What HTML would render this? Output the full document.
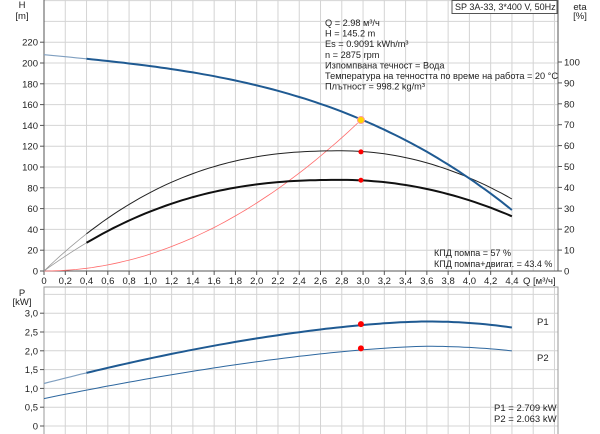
<!DOCTYPE html>
<html><head><meta charset="utf-8"><style>
body{margin:0;background:#fff}
svg{display:block;font-family:"Liberation Sans","DejaVu Sans",sans-serif;font-size:9.5px;fill:#222}
</style></head><body>
<svg id="s" width="600" height="434" viewBox="0 0 600 434" xmlns="http://www.w3.org/2000/svg">
<g id="grid" stroke="#d4d4d4" stroke-width="1"></g>
<g id="axes"></g>
<g id="curves" fill="none"></g>
<g id="txt"></g>
</svg>
<script>
const NS="http://www.w3.org/2000/svg";
function el(p,t,a,tx){const e=document.createElementNS(NS,t);for(const k in a)e.setAttribute(k,a[k]);if(tx!==undefined)e.textContent=tx;document.getElementById(p).appendChild(e);return e;}
const X=q=>44+q*106.35;
const YH=h=>271-h*1.04;
const YE=e=>271-e*2.09;
const YP=p=>426-p*37.6;
for(let i=0;i<=24;i++){const x=44+i*21.27;if(x>558)break;el("grid","line",{x1:x,y1:0,x2:x,y2:271});el("grid","line",{x1:x,y1:287,x2:x,y2:434});}
for(let h=0;h<=260;h+=20){el("grid","line",{x1:44,y1:YH(h),x2:558,y2:YH(h)});}
for(let p=0;p<=3.5;p+=0.5){el("grid","line",{x1:44,y1:YP(p),x2:558,y2:YP(p)});}
el("axes","line",{x1:44,y1:0,x2:44,y2:271,stroke:"#555"});
el("axes","line",{x1:44,y1:271,x2:558,y2:271,stroke:"#555"});
el("axes","line",{x1:558,y1:0,x2:558,y2:271,stroke:"#555"});
el("axes","rect",{x:44,y:287,width:514,height:150,fill:"none",stroke:"#999"});
for(let h=0;h<=220;h+=20){el("txt","text",{x:38,y:YH(h)+3.5,"text-anchor":"end"},h);el("axes","line",{x1:40,y1:YH(h),x2:44,y2:YH(h),stroke:"#555"});}
for(let e=0;e<=100;e+=10){el("txt","text",{x:564,y:YE(e)+3.5},e);el("axes","line",{x1:558,y1:YE(e),x2:562,y2:YE(e),stroke:"#555"});}
for(let i=0;i<=22;i++){const q=i*0.2;el("txt","text",{x:X(q),y:284,"text-anchor":"middle"},i==0?"0":q.toFixed(1).replace(".",","));el("axes","line",{x1:X(q),y1:271,x2:X(q),y2:275,stroke:"#555"});}
el("txt","text",{x:523,y:284},"Q [м³/ч]");
const pl=["0","0,5","1,0","1,5","2,0","2,5","3,0"];
pl.forEach((t,i)=>{el("txt","text",{x:38,y:YP(i*0.5)+3.5,"text-anchor":"end"},t);el("axes","line",{x1:40,y1:YP(i*0.5),x2:44,y2:YP(i*0.5),stroke:"#555"});});
el("txt","text",{x:22,y:8,"text-anchor":"middle"},"H");
el("txt","text",{x:22,y:19,"text-anchor":"middle"},"[m]");
el("txt","text",{x:580,y:10,"text-anchor":"middle"},"eta");
el("txt","text",{x:580,y:19,"text-anchor":"middle"},"[%]");
el("txt","text",{x:22,y:296,"text-anchor":"middle"},"P");
el("txt","text",{x:22,y:305,"text-anchor":"middle"},"[kW]");
el("txt","rect",{x:452,y:0.5,width:105,height:13,fill:"#fff",stroke:"#555"});
el("txt","text",{x:455,y:10,"font-size":"9"},"SP 3A-33, 3*400 V, 50Hz");
const info=["Q = 2.98 м³/ч","H = 145.2 m","Es = 0.9091 kWh/m³","n = 2875 rpm","Изпомпвана течност = Вода","Температура на течността по време на работа = 20 °C","Плътност = 998.2 kg/m³"];
info.forEach((t,i)=>el("txt","text",{x:325,y:26+i*10.6,"font-size":"9.2"},t));
el("txt","text",{x:434,y:256,"font-size":"9"},"КПД помпа = 57 %");
el("txt","text",{x:434,y:267,"font-size":"9"},"КПД помпа+двигат. = 43.4 %");
el("txt","text",{x:537,y:325},"P1");
el("txt","text",{x:537,y:361},"P2");
el("txt","text",{x:494,y:411},"P1 = 2.709 kW");
el("txt","text",{x:494,y:422},"P2 = 2.063 kW");
function path(f,q0,q1,Y,attrs){let d="";for(let q=q0;q<=q1+1e-9;q+=0.05){d+=(d?"L":"M")+X(q).toFixed(1)+","+Y(f(q)).toFixed(1);}el("curves","path",Object.assign({d},attrs));}
const H=q=>208-9.75*q-1.25*q*q*q;
const E1b=q=>q<=2.8?57.5*(1-Math.pow(1-q/2.8,2.4)):57.5-9*Math.pow(q-2.8,2);
const E2b=q=>q<=2.8?43.6*(1-Math.pow(1-q/2.8,2.4)):43.6-6.8*Math.pow(q-2.8,2);
const P1=q=>q<=3.6?2.78-1.65*Math.pow((3.6-q)/3.6,1.6):2.78-0.25*Math.pow(q-3.6,2);
const P2=q=>q<=3.6?2.12-1.39*Math.pow((3.6-q)/3.6,1.5):2.12-0.19*Math.pow(q-3.6,2);
path(q=>145.2*Math.pow(q/2.98,2),0,2.98,YH,{stroke:"#ff6b6b","stroke-width":0.8});
path(E1b,0,0.4,YE,{stroke:"#999","stroke-width":0.8});
path(E2b,0,0.4,YE,{stroke:"#999","stroke-width":0.8});
path(E1b,0.4,4.4,YE,{stroke:"#222","stroke-width":1});
path(E2b,0.4,4.4,YE,{stroke:"#111","stroke-width":2});
path(H,0,0.4,YH,{stroke:"#7f9fc0","stroke-width":1.2});
path(H,0.4,4.4,YH,{stroke:"#1f5a92","stroke-width":2});
path(P1,0,0.4,YP,{stroke:"#7f9fc0","stroke-width":1.2});
path(P1,0.4,4.4,YP,{stroke:"#1f5a92","stroke-width":2});
path(P2,0,4.4,YP,{stroke:"#2d679f","stroke-width":1});
el("curves","circle",{cx:X(2.98),cy:YE(57),r:2.5,fill:"#f00"});
el("curves","circle",{cx:X(2.98),cy:YE(43.4),r:2.5,fill:"#f00"});
el("curves","circle",{cx:X(2.98),cy:YP(2.709),r:3,fill:"#f00"});
el("curves","circle",{cx:X(2.98),cy:YP(2.063),r:3,fill:"#f00"});
el("curves","circle",{cx:X(2.98),cy:YH(145.2),r:3.5,fill:"#ffd700",stroke:"#f99"});
</script>
</body></html>
